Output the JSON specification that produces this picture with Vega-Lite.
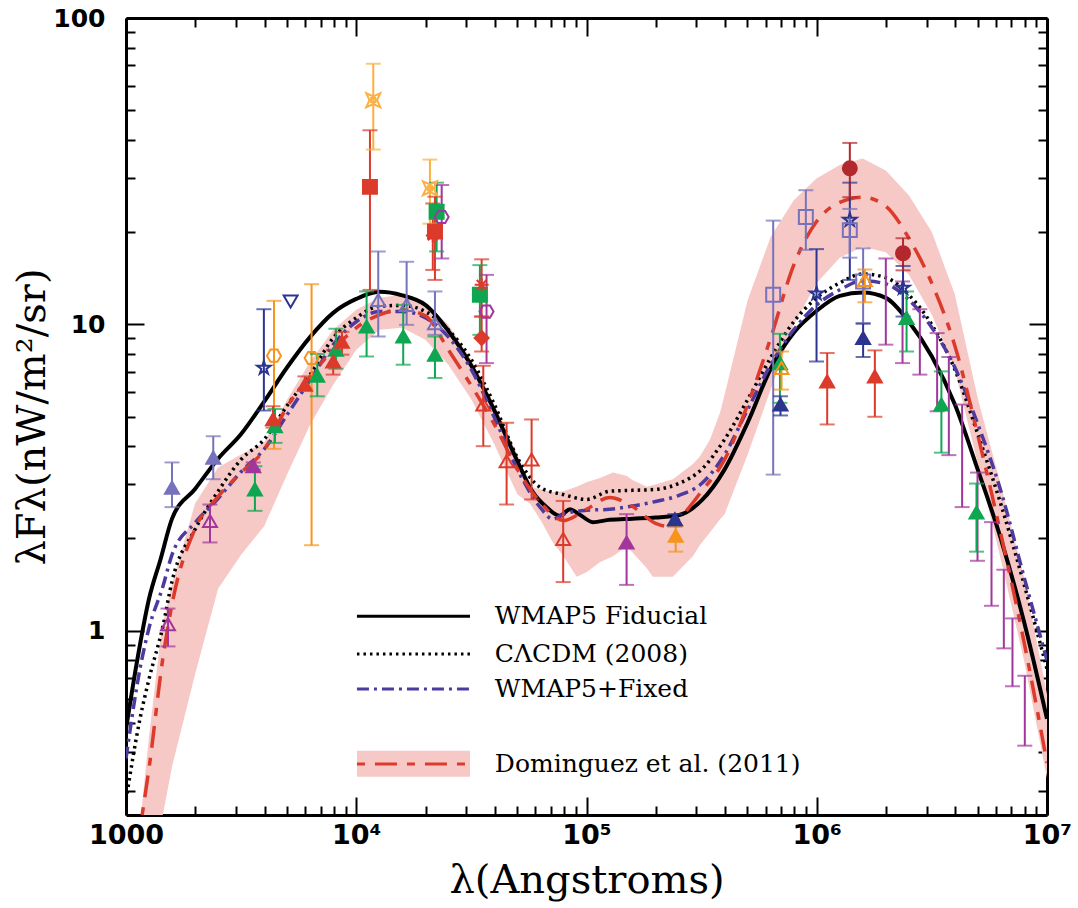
{
  "$schema": "https://vega.github.io/schema/vega-lite/v6.json",
  "width": 921,
  "height": 797,
  "autosize": {"type": "none"},
  "padding": {"left": 126, "top": 18, "right": 31, "bottom": 93},
  "background": "white",
  "config": {"view": {"stroke": null}, "axis": {"grid": false}},
  "datasets": {
    "band": [
      {"x":1161,"lo":0.2,"hi":0.25},{"x":1259,"lo":0.2,"hi":0.45},{"x":1413,"lo":0.2,"hi":0.95},{"x":1445,"lo":0.25,"hi":1.05},
      {"x":1585,"lo":0.36,"hi":1.42},{"x":1995,"lo":0.72,"hi":2.6},{"x":2512,"lo":1.37,"hi":3.41},{"x":3162,"lo":1.77,"hi":3.76},
      {"x":3981,"lo":2.19,"hi":4.11},{"x":5012,"lo":3.24,"hi":5.68},{"x":6310,"lo":4.71,"hi":7.55},{"x":7943,"lo":6.35,"hi":9.6},
      {"x":10000,"lo":8.26,"hi":11.15},{"x":12589,"lo":9.6,"hi":12.2},{"x":15849,"lo":9.74,"hi":12.48},{"x":19953,"lo":8.9,"hi":11.75},
      {"x":25119,"lo":7.38,"hi":9.96},{"x":31623,"lo":5.68,"hi":7.66},{"x":39811,"lo":4.05,"hi":5.47},{"x":50119,"lo":2.78,"hi":3.76},
      {"x":56750,"lo":2.6,"hi":2.95},{"x":63096,"lo":2.3,"hi":2.9},{"x":71450,"lo":1.94,"hi":2.83},{"x":79433,"lo":1.75,"hi":2.85},
      {"x":90570,"lo":1.5,"hi":2.95},{"x":100000,"lo":1.55,"hi":3.05},{"x":114300,"lo":1.67,"hi":3.15},{"x":130300,"lo":1.75,"hi":3.28},
      {"x":149300,"lo":1.88,"hi":3.2},{"x":158489,"lo":1.8,"hi":3.1},{"x":182400,"lo":1.6,"hi":2.95},{"x":194100,"lo":1.5,"hi":2.98},
      {"x":237100,"lo":1.5,"hi":3.12},{"x":289700,"lo":1.75,"hi":3.5},{"x":310500,"lo":1.9,"hi":3.7},{"x":343600,"lo":2.09,"hi":4.2},
      {"x":380200,"lo":2.31,"hi":5.15},{"x":398107,"lo":2.4,"hi":5.9},{"x":501187,"lo":3.76,"hi":12.0},{"x":630957,"lo":6.12,"hi":19.3},
      {"x":794328,"lo":9.96,"hi":25.4},{"x":1000000,"lo":13.65,"hi":30.0},{"x":1258925,"lo":16.5,"hi":33.1},{"x":1584893,"lo":17.9,"hi":34.8},
      {"x":1995262,"lo":17.2,"hi":31.8},{"x":2511886,"lo":14.5,"hi":26.4},{"x":3162278,"lo":10.74,"hi":20.0},{"x":3981072,"lo":7.1,"hi":12.5},
      {"x":5011872,"lo":3.5,"hi":5.7},{"x":6309573,"lo":1.7,"hi":2.98},{"x":7943282,"lo":0.8,"hi":1.5},{"x":10000000,"lo":0.33,"hi":0.62}
    ],
    "fiducial": [
      {"x":1000,"y":0.477},{"x":1122,"y":0.81},{"x":1259,"y":1.27},{"x":1413,"y":1.71},{"x":1585,"y":2.32},{"x":1995,"y":2.9},
      {"x":2512,"y":3.64},{"x":3162,"y":4.38},{"x":3981,"y":5.59},{"x":5012,"y":7.24},{"x":6310,"y":9.1},{"x":7943,"y":10.9},
      {"x":10000,"y":12.1},{"x":12589,"y":12.76},{"x":15849,"y":12.43},{"x":19953,"y":11.57},{"x":25119,"y":9.52},{"x":31623,"y":7.32},
      {"x":39811,"y":5.23},{"x":50119,"y":3.57},{"x":58480,"y":2.83},{"x":67000,"y":2.53},{"x":76560,"y":2.37},{"x":84720,"y":2.49},
      {"x":93540,"y":2.39},{"x":106600,"y":2.26},{"x":125893,"y":2.3},{"x":158489,"y":2.32},{"x":199526,"y":2.34},{"x":251189,"y":2.38},
      {"x":316228,"y":2.66},{"x":398107,"y":3.36},{"x":501187,"y":4.78},{"x":630957,"y":7.16},{"x":794328,"y":9.38},{"x":1000000,"y":11.07},
      {"x":1258925,"y":12.38},{"x":1584893,"y":12.7},{"x":1995262,"y":12.2},{"x":2511886,"y":10.19},{"x":3162278,"y":7.85},{"x":3981072,"y":5.47},
      {"x":5011872,"y":3.34},{"x":6309573,"y":1.99},{"x":7943282,"y":1.07},{"x":10000000,"y":0.515}
    ],
    "cacdm": [
      {"x":1000,"y":0.28},{"x":1150,"y":0.515},{"x":1259,"y":0.695},{"x":1445,"y":1.03},{"x":1585,"y":1.45},{"x":1995,"y":2.14},
      {"x":2512,"y":2.85},{"x":3162,"y":3.62},{"x":3981,"y":4.21},{"x":5012,"y":5.43},{"x":6310,"y":6.85},{"x":7943,"y":9.03},
      {"x":10000,"y":10.5},{"x":12589,"y":11.45},{"x":15849,"y":11.53},{"x":19953,"y":11.0},{"x":25119,"y":9.6},{"x":31623,"y":7.66},
      {"x":39811,"y":5.47},{"x":50119,"y":3.67},{"x":63096,"y":2.93},{"x":79433,"y":2.78},{"x":100000,"y":2.68},{"x":125893,"y":2.85},
      {"x":158489,"y":2.87},{"x":199526,"y":2.89},{"x":251189,"y":3.02},{"x":316228,"y":3.36},{"x":398107,"y":4.21},{"x":501187,"y":5.68},
      {"x":630957,"y":7.78},{"x":794328,"y":10.19},{"x":1000000,"y":12.2},{"x":1258925,"y":13.65},{"x":1584893,"y":14.6},{"x":1995262,"y":14.2},
      {"x":2511886,"y":12.48},{"x":3162278,"y":9.96},{"x":3981072,"y":7.11},{"x":5011872,"y":4.37},{"x":6309573,"y":2.58},{"x":7943282,"y":1.42},
      {"x":10000000,"y":0.75}
    ],
    "fixed": [
      {"x":1000,"y":0.382},{"x":1150,"y":0.75},{"x":1259,"y":1.02},{"x":1445,"y":1.39},{"x":1585,"y":1.77},{"x":1995,"y":2.25},
      {"x":2512,"y":2.7},{"x":3162,"y":3.3},{"x":3981,"y":3.91},{"x":5012,"y":5.07},{"x":6310,"y":6.59},{"x":7943,"y":8.58},
      {"x":10000,"y":10.19},{"x":12589,"y":11.0},{"x":15849,"y":11.0},{"x":19953,"y":10.5},{"x":25119,"y":9.1},{"x":31623,"y":7.11},
      {"x":39811,"y":4.96},{"x":50119,"y":3.36},{"x":63096,"y":2.52},{"x":71450,"y":2.31},{"x":79433,"y":2.4},{"x":100000,"y":2.47},
      {"x":125893,"y":2.49},{"x":158489,"y":2.55},{"x":199526,"y":2.64},{"x":251189,"y":2.76},{"x":316228,"y":3.02},{"x":398107,"y":3.76},
      {"x":501187,"y":5.27},{"x":630957,"y":7.38},{"x":794328,"y":9.6},{"x":1000000,"y":11.57},{"x":1258925,"y":12.96},{"x":1584893,"y":13.86},
      {"x":1995262,"y":13.55},{"x":2511886,"y":12.02},{"x":3162278,"y":9.75},{"x":3981072,"y":7.22},{"x":5011872,"y":4.71},{"x":6309573,"y":2.85},
      {"x":7943282,"y":1.5},{"x":10000000,"y":0.8}
    ],
    "dominguez": [
      {"x":1175,"y":0.25},{"x":1259,"y":0.355},{"x":1445,"y":0.81},{"x":1585,"y":1.22},{"x":1995,"y":2.15},{"x":2512,"y":2.74},
      {"x":3162,"y":3.28},{"x":3981,"y":3.89},{"x":5012,"y":5.39},{"x":6310,"y":6.75},{"x":7943,"y":8.26},{"x":10000,"y":9.74},
      {"x":12589,"y":10.74},{"x":15849,"y":11.15},{"x":19953,"y":10.66},{"x":25119,"y":8.26},{"x":31623,"y":6.3},{"x":39811,"y":4.71},
      {"x":50119,"y":3.36},{"x":63096,"y":2.62},{"x":79433,"y":2.29},{"x":100000,"y":2.49},{"x":125893,"y":2.72},{"x":158489,"y":2.54},
      {"x":199526,"y":2.24},{"x":223872,"y":2.19},{"x":251189,"y":2.32},{"x":316228,"y":2.85},{"x":398107,"y":3.62},{"x":501187,"y":5.47},
      {"x":630957,"y":9.03},{"x":794328,"y":15.6},{"x":1000000,"y":21.7},{"x":1258925,"y":25.0},{"x":1584893,"y":26.0},{"x":1995262,"y":24.3},
      {"x":2511886,"y":19.1},{"x":3162278,"y":13.6},{"x":3981072,"y":8.5},{"x":5011872,"y":4.33},{"x":6309573,"y":2.06},{"x":7943282,"y":0.92},
      {"x":10000000,"y":0.37}
    ],
    "points": [
      {"set":"set01","x":1584,"y":2.93,"lo":2.53,"hi":3.54},
      {"set":"set01","x":2393,"y":3.67,"lo":3.12,"hi":4.31},
      {"set":"set02","x":1522,"y":1.05,"lo":0.888,"hi":1.18},
      {"set":"set02","x":2316,"y":2.28,"lo":1.94,"hi":2.58},
      {"set":"set03","x":3970,"y":7.2,"lo":5.23,"hi":11.2},
      {"set":"set03","x":997800,"y":12.6,"lo":7.56,"hi":17.6},
      {"set":"set03","x":1392000,"y":21.9,"lo":13.96,"hi":29.0},
      {"set":"set03","x":2370000,"y":13.15,"lo":10.6,"hi":15.5},
      {"set":"set04","x":4392,"y":7.9,"lo":3.92,"hi":11.93},
      {"set":"set04","x":6397,"y":7.76,"lo":1.9,"hi":13.52},
      {"set":"set05","x":5188,"y":11.87},
      {"set":"set06","x":3630,"y":2.89,"lo":2.46,"hi":3.44},
      {"set":"set06","x":4436,"y":4.65,"lo":4.1,"hi":5.29},
      {"set":"set06","x":6771,"y":6.8,"lo":5.82,"hi":8.0},
      {"set":"set06","x":8160,"y":8.26,"lo":7.16,"hi":9.67},
      {"set":"set06","x":11090,"y":9.84,"lo":7.85,"hi":12.8},
      {"set":"set06","x":15995,"y":9.12,"lo":7.38,"hi":11.57},
      {"set":"set06","x":21970,"y":7.96,"lo":6.68,"hi":9.12},
      {"set":"set06","x":692000,"y":7.47,"lo":5.54,"hi":9.31},
      {"set":"set06","x":2455000,"y":10.48,"lo":8.15,"hi":12.8},
      {"set":"set06","x":3478000,"y":5.47,"lo":3.81,"hi":7.02},
      {"set":"set06","x":4940000,"y":2.43,"lo":1.81,"hi":3.02},
      {"set":"set07","x":4350,"y":4.9,"lo":4.6,"hi":5.4},
      {"set":"set07","x":5985,"y":6.35,"lo":6.12,"hi":6.76},
      {"set":"set07","x":7940,"y":7.56,"lo":6.85,"hi":8.26},
      {"set":"set07","x":8666,"y":8.77,"lo":7.96,"hi":9.45},
      {"set":"set07","x":1110000,"y":6.51,"lo":4.71,"hi":8.06},
      {"set":"set07","x":1788000,"y":6.76,"lo":4.99,"hi":8.22},
      {"set":"set08","x":3570,"y":3.44,"lo":3.36,"hi":3.54},
      {"set":"set08","x":149300,"y":1.94,"lo":1.41,"hi":2.4},
      {"set":"set09","x":11855,"y":53.9,"lo":37.2,"hi":70.9},
      {"set":"set09","x":20893,"y":27.8,"lo":21.3,"hi":34.5},
      {"set":"set10","x":11468,"y":28.1,"lo":12.95,"hi":43.0},
      {"set":"set10","x":21970,"y":20.1,"lo":13.96,"hi":26.1},
      {"set":"set11","x":12460,"y":12.0,"lo":9.12,"hi":17.3},
      {"set":"set11","x":16550,"y":11.57,"lo":9.96,"hi":16.0},
      {"set":"set11","x":21970,"y":10.09,"lo":9.24,"hi":12.8},
      {"set":"set12","x":22340,"y":23.3,"lo":17.3,"hi":29.0},
      {"set":"set12","x":34430,"y":12.48,"lo":9.24,"hi":15.6},
      {"set":"set13","x":23500,"y":22.4,"lo":16.4,"hi":28.5},
      {"set":"set13","x":36800,"y":11.0,"lo":7.47,"hi":14.5},
      {"set":"set14","x":21500,"y":19.5,"lo":15.05,"hi":24.8},
      {"set":"set14","x":35040,"y":13.45,"lo":10.6,"hi":16.3},
      {"set":"set15","x":35040,"y":9.02,"lo":8.15,"hi":10.6},
      {"set":"set16","x":35620,"y":5.47,"lo":4.0,"hi":7.32},
      {"set":"set16","x":44980,"y":3.57,"lo":2.58,"hi":4.77},
      {"set":"set16","x":57750,"y":3.62,"lo":2.68,"hi":4.89},
      {"set":"set16","x":79200,"y":1.99,"lo":1.44,"hi":2.65},
      {"set":"set17","x":242100,"y":2.31,"lo":2.19,"hi":2.4},
      {"set":"set17","x":695800,"y":5.47,"lo":5.04,"hi":5.82},
      {"set":"set17","x":1590000,"y":9.02,"lo":7.82,"hi":10.04},
      {"set":"set18","x":244000,"y":2.04,"lo":1.81,"hi":2.19},
      {"set":"set19","x":646900,"y":12.48,"lo":3.23,"hi":21.8},
      {"set":"set19","x":896700,"y":22.4,"lo":17.5,"hi":27.4},
      {"set":"set19","x":1392000,"y":20.3,"lo":16.5,"hi":23.8},
      {"set":"set19","x":1590000,"y":13.8,"lo":10.1,"hi":17.7},
      {"set":"set20","x":1392000,"y":32.3,"lo":26.0,"hi":39.1},
      {"set":"set20","x":2370000,"y":17.06,"lo":15.0,"hi":19.1},
      {"set":"set21","x":703000,"y":7.2,"lo":6.12,"hi":8.15},
      {"set":"set21","x":1618000,"y":13.96,"lo":11.8,"hi":15.1}
    ],
    "bars": [
      {"x":1995000,"lo":8.58,"hi":16.4},{"x":2358000,"lo":7.47,"hi":13.8},{"x":2804000,"lo":6.85,"hi":11.2},
      {"x":3333000,"lo":5.2,"hi":9.36},{"x":3747000,"lo":3.74,"hi":7.82},{"x":4279000,"lo":2.53,"hi":5.47},
      {"x":4991000,"lo":1.69,"hi":3.28},{"x":5741000,"lo":1.205,"hi":2.26},{"x":6494000,"lo":0.875,"hi":1.58},
      {"x":7080000,"lo":0.658,"hi":1.096},{"x":8010000,"lo":0.421,"hi":0.712}
    ]
  },
  "resolve": {"axis": {"x": "independent", "y": "independent"}},
  "layer": [
    {
      "data": {"name": "band"},
      "mark": {"type": "area", "color": "#f6c9c6", "clip": true},
      "encoding": {
        "x": {"field": "x", "type": "quantitative",
          "scale": {"type": "log", "domain": [1000, 10000000], "nice": false},
          "axis": {"orient": "bottom",
            "values": [1000,2000,3000,4000,5000,6000,7000,8000,9000,10000,20000,30000,40000,50000,60000,70000,80000,90000,100000,200000,300000,400000,500000,600000,700000,800000,900000,1000000,2000000,3000000,4000000,5000000,6000000,7000000,8000000,9000000,10000000],
            "labelExpr": "datum.value == 1000 ? '1000' : datum.value == 10000 ? '10⁴' : datum.value == 100000 ? '10⁵' : datum.value == 1000000 ? '10⁶' : datum.value == 10000000 ? '10⁷' : ''",
            "labelFlush": false, "labelOverlap": false, "labelBound": false,
            "labelFont": "DejaVu Sans", "labelFontSize": 27, "labelFontWeight": "bold", "labelColor": "black",
            "labelPadding": 25, "labelBaseline": "top",
            "tickSize": {"condition": {"test": "datum.value == 1000 || datum.value == 10000 || datum.value == 100000 || datum.value == 1000000 || datum.value == 10000000", "value": -18}, "value": -9},
            "tickWidth": 2, "tickColor": "black", "domainColor": "black", "domainWidth": 3,
            "title": "λ(Angstroms)", "titleFont": "DejaVu Serif", "titleFontSize": 40, "titleFontWeight": "normal", "titleColor": "black", "titlePadding": 3}},
        "y": {"field": "hi", "type": "quantitative",
          "scale": {"type": "log", "domain": [0.25, 100], "nice": false},
          "axis": {"orient": "left",
            "values": [0.3,0.4,0.5,0.6,0.7,0.8,0.9,1,2,3,4,5,6,7,8,9,10,20,30,40,50,60,70,80,90,100],
            "labelExpr": "datum.value == 100 ? '100' : datum.value == 10 ? '10' : datum.value == 1 ? '1' : ''",
            "labelFlush": false, "labelOverlap": false, "labelBound": false,
            "labelFont": "DejaVu Sans", "labelFontSize": 25, "labelFontWeight": "bold", "labelColor": "black",
            "labelPadding": 39,
            "tickSize": {"condition": {"test": "datum.value == 1 || datum.value == 10 || datum.value == 100", "value": -18}, "value": -9},
            "tickWidth": 2, "tickColor": "black", "domainColor": "black", "domainWidth": 3,
            "title": "λFλ(nW/m²/sr)", "titleFont": "DejaVu Serif", "titleFontSize": 40, "titleFontWeight": "normal", "titleColor": "black", "titlePadding": 0}},
        "y2": {"field": "lo"}
      }
    },
    {
      "data": {"values": [{}]},
      "mark": {"type": "rect", "color": "#f6c9c6"},
      "encoding": {
        "x": {"datum": 10070, "type": "quantitative", "axis": null},
        "x2": {"datum": 31190},
        "y": {"datum": 0.405, "type": "quantitative", "axis": null},
        "y2": {"datum": 0.333}
      }
    },
    {
      "data": {"name": "fiducial"},
      "mark": {"type": "line", "color": "black", "strokeWidth": 4, "clip": true, "interpolate": "monotone"},
      "encoding": {
        "x": {"field": "x", "type": "quantitative",
          "axis": {"orient": "top", "labels": false, "title": null,
            "values": [1000,2000,3000,4000,5000,6000,7000,8000,9000,10000,20000,30000,40000,50000,60000,70000,80000,90000,100000,200000,300000,400000,500000,600000,700000,800000,900000,1000000,2000000,3000000,4000000,5000000,6000000,7000000,8000000,9000000,10000000],
            "tickSize": {"condition": {"test": "datum.value == 1000 || datum.value == 10000 || datum.value == 100000 || datum.value == 1000000 || datum.value == 10000000", "value": -18}, "value": -9},
            "tickWidth": 2, "tickColor": "black", "domainColor": "black", "domainWidth": 3}},
        "y": {"field": "y", "type": "quantitative",
          "axis": {"orient": "right", "labels": false, "title": null,
            "values": [0.3,0.4,0.5,0.6,0.7,0.8,0.9,1,2,3,4,5,6,7,8,9,10,20,30,40,50,60,70,80,90,100],
            "tickSize": {"condition": {"test": "datum.value == 1 || datum.value == 10 || datum.value == 100", "value": -18}, "value": -9},
            "tickWidth": 2, "tickColor": "black", "domainColor": "black", "domainWidth": 3}}
      }
    },
    {
      "data": {"name": "cacdm"},
      "mark": {"type": "line", "color": "black", "strokeWidth": 3.5, "strokeDash": [2.5, 4], "clip": true, "interpolate": "monotone"},
      "encoding": {
        "x": {"field": "x", "type": "quantitative", "axis": null},
        "y": {"field": "y", "type": "quantitative", "axis": null}
      }
    },
    {
      "data": {"name": "fixed"},
      "mark": {"type": "line", "color": "#4e3a9f", "strokeWidth": 3.5, "strokeDash": [12, 5, 3, 5], "clip": true, "interpolate": "monotone"},
      "encoding": {
        "x": {"field": "x", "type": "quantitative", "axis": null},
        "y": {"field": "y", "type": "quantitative", "axis": null}
      }
    },
    {
      "data": {"name": "dominguez"},
      "mark": {"type": "line", "color": "#dc3a2a", "strokeWidth": 3.5, "strokeDash": [8, 10, 22, 10], "clip": true, "interpolate": "monotone"},
      "encoding": {
        "x": {"field": "x", "type": "quantitative", "axis": null},
        "y": {"field": "y", "type": "quantitative", "axis": null}
      }
    },
    {
      "data": {"name": "bars"},
      "mark": {"type": "rule", "color": "#a2369c", "strokeWidth": 2},
      "encoding": {
        "x": {"field": "x", "type": "quantitative", "axis": null},
        "y": {"field": "lo", "type": "quantitative", "axis": null},
        "y2": {"field": "hi"}
      }
    },
    {
      "data": {"name": "bars"},
      "mark": {"type": "tick", "orient": "horizontal", "color": "#a2369c", "size": 15, "thickness": 2},
      "encoding": {
        "x": {"field": "x", "type": "quantitative", "axis": null},
        "y": {"field": "lo", "type": "quantitative", "axis": null}
      }
    },
    {
      "data": {"name": "bars"},
      "mark": {"type": "tick", "orient": "horizontal", "color": "#a2369c", "size": 15, "thickness": 2},
      "encoding": {
        "x": {"field": "x", "type": "quantitative", "axis": null},
        "y": {"field": "hi", "type": "quantitative", "axis": null}
      }
    },
    {
      "data": {"name": "points"},
      "mark": {"type": "rule", "strokeWidth": 2},
      "encoding": {
        "x": {"field": "x", "type": "quantitative", "axis": null},
        "y": {"field": "lo", "type": "quantitative", "axis": null},
        "y2": {"field": "hi"},
        "color": {"field": "set", "type": "nominal", "legend": null,
          "scale": {"domain": ["set01","set02","set03","set04","set05","set06","set07","set08","set09","set10","set11","set12","set13","set14","set15","set16","set17","set18","set19","set20","set21"],
                    "range": ["#7672bb","#a2369c","#2b3590","#f7941d","#2b3590","#0fa651","#dc3a2a","#a2369c","#fbb040","#dc3a2a","#7672bb","#0fa651","#a2369c","#dc3a2a","#dc3a2a","#dc3a2a","#2b3590","#f7941d","#7672bb","#b3282e","#f7941d"]}}
      }
    },
    {
      "data": {"name": "points"},
      "mark": {"type": "tick", "orient": "horizontal", "size": 15, "thickness": 2},
      "encoding": {
        "x": {"field": "x", "type": "quantitative", "axis": null},
        "y": {"field": "lo", "type": "quantitative", "axis": null},
        "color": {"field": "set", "type": "nominal", "legend": null}
      }
    },
    {
      "data": {"name": "points"},
      "mark": {"type": "tick", "orient": "horizontal", "size": 15, "thickness": 2},
      "encoding": {
        "x": {"field": "x", "type": "quantitative", "axis": null},
        "y": {"field": "hi", "type": "quantitative", "axis": null},
        "color": {"field": "set", "type": "nominal", "legend": null}
      }
    },
    {
      "data": {"name": "points"},
      "mark": {"type": "point", "filled": false, "strokeWidth": 2, "size": 195, "opacity": 1},
      "encoding": {
        "x": {"field": "x", "type": "quantitative", "axis": null},
        "y": {"field": "y", "type": "quantitative", "axis": null},
        "color": {"field": "set", "type": "nominal", "legend": null},
        "fill": {"field": "set", "type": "nominal", "legend": null,
          "scale": {"domain": ["set01","set02","set03","set04","set05","set06","set07","set08","set09","set10","set11","set12","set13","set14","set15","set16","set17","set18","set19","set20","set21"],
                    "range": ["#7672bb","transparent","transparent","transparent","transparent","#0fa651","#dc3a2a","#a2369c","transparent","#dc3a2a","transparent","#0fa651","transparent","transparent","#dc3a2a","transparent","#2b3590","#f7941d","transparent","#b3282e","transparent"]}},
        "shape": {"field": "set", "type": "nominal", "legend": null,
          "scale": {"domain": ["set01","set02","set03","set04","set05","set06","set07","set08","set09","set10","set11","set12","set13","set14","set15","set16","set17","set18","set19","set20","set21"],
                    "range": ["triangle-up","triangle-up",
                      "M0,-1L0.2245,-0.309L0.9511,-0.309L0.3633,0.118L0.5878,0.809L0,0.382L-0.5878,0.809L-0.3633,0.118L-0.9511,-0.309L-0.2245,-0.309Z",
                      "M-1,0L-0.5,-0.866L0.5,-0.866L1,0L0.5,0.866L-0.5,0.866Z",
                      "triangle-down","triangle-up","triangle-up","triangle-up",
                      "M-1,-1L0,-0.55L1,-1L0.55,0L1,1L0,0.55L-1,1L-0.55,0ZM-0.3,-0.3L0.3,-0.3L0.3,0.3L-0.3,0.3Z",
                      "square","triangle-up","square",
                      "M-1,0L-0.5,-0.866L0.5,-0.866L1,0L0.5,0.866L-0.5,0.866Z",
                      "M0,-1L0,1M-1,0L1,0M-0.7,-0.7L0.7,0.7M-0.7,0.7L0.7,-0.7",
                      "diamond","triangle-up","triangle-up","triangle-up","square","circle","triangle-up"]}}
      }
    },
    {
      "data": {"values": [{}]},
      "mark": {"type": "rule", "color": "black", "strokeWidth": 3},
      "encoding": {"x": {"datum": 10070, "type": "quantitative", "axis": null}, "x2": {"datum": 31190}, "y": {"datum": 1.114, "type": "quantitative", "axis": null}}
    },
    {
      "data": {"values": [{}]},
      "mark": {"type": "rule", "color": "black", "strokeWidth": 3, "strokeDash": [2.5, 4]},
      "encoding": {"x": {"datum": 10070, "type": "quantitative", "axis": null}, "x2": {"datum": 31190}, "y": {"datum": 0.838, "type": "quantitative", "axis": null}}
    },
    {
      "data": {"values": [{}]},
      "mark": {"type": "rule", "color": "#4e3a9f", "strokeWidth": 3, "strokeDash": [12, 5, 3, 5]},
      "encoding": {"x": {"datum": 10070, "type": "quantitative", "axis": null}, "x2": {"datum": 31190}, "y": {"datum": 0.645, "type": "quantitative", "axis": null}}
    },
    {
      "data": {"values": [{}]},
      "mark": {"type": "rule", "color": "#dc3a2a", "strokeWidth": 3, "strokeDash": [8, 10, 22, 10]},
      "encoding": {"x": {"datum": 10070, "type": "quantitative", "axis": null}, "x2": {"datum": 31190}, "y": {"datum": 0.367, "type": "quantitative", "axis": null}}
    },
    {
      "data": {"values": [{}]},
      "mark": {"type": "text", "align": "left", "baseline": "middle", "font": "DejaVu Serif", "fontSize": 25, "color": "black", "text": "WMAP5 Fiducial"},
      "encoding": {"x": {"datum": 40000, "type": "quantitative", "axis": null}, "y": {"datum": 1.114, "type": "quantitative", "axis": null}}
    },
    {
      "data": {"values": [{}]},
      "mark": {"type": "text", "align": "left", "baseline": "middle", "font": "DejaVu Serif", "fontSize": 25, "color": "black", "text": "CΛCDM (2008)"},
      "encoding": {"x": {"datum": 40000, "type": "quantitative", "axis": null}, "y": {"datum": 0.838, "type": "quantitative", "axis": null}}
    },
    {
      "data": {"values": [{}]},
      "mark": {"type": "text", "align": "left", "baseline": "middle", "font": "DejaVu Serif", "fontSize": 25, "color": "black", "text": "WMAP5+Fixed"},
      "encoding": {"x": {"datum": 40000, "type": "quantitative", "axis": null}, "y": {"datum": 0.645, "type": "quantitative", "axis": null}}
    },
    {
      "data": {"values": [{}]},
      "mark": {"type": "text", "align": "left", "baseline": "middle", "font": "DejaVu Serif", "fontSize": 25, "color": "black", "text": "Dominguez et al. (2011)"},
      "encoding": {"x": {"datum": 40000, "type": "quantitative", "axis": null}, "y": {"datum": 0.367, "type": "quantitative", "axis": null}}
    }
  ]
}
